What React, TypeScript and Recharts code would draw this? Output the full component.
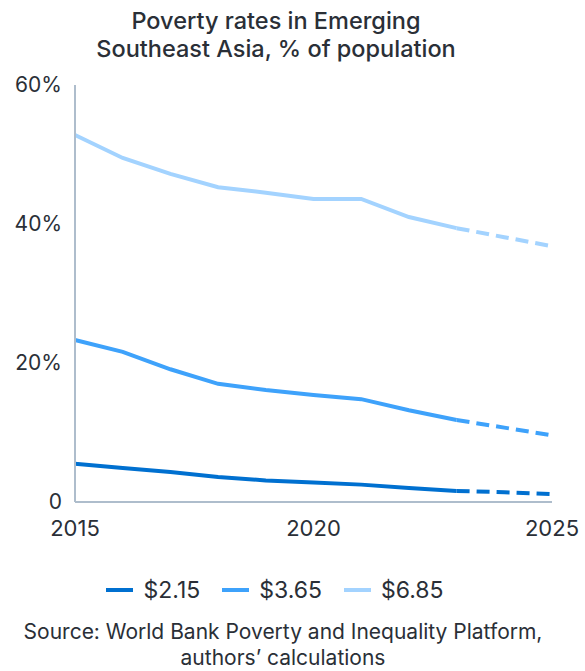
import { LineChart, Line, XAxis, YAxis } from 'recharts';

const years = [2015, 2016, 2017, 2018, 2019, 2020, 2021, 2022, 2023, 2024, 2025];
const lastActual = 2023;
const poor215 = [5.5, 4.9, 4.3, 3.6, 3.1, 2.8, 2.5, 2.0, 1.6, 1.4, 1.15];
const poor365 = [23.3, 21.6, 19.1, 17.0, 16.1, 15.4, 14.8, 13.2, 11.8, 10.7, 9.6];
const poor685 = [52.8, 49.5, 47.2, 45.3, 44.5, 43.6, 43.6, 41.0, 39.4, 38.1, 36.8];
const yTicks = [0, 20, 40, 60];
const xTicks = [2015, 2020, 2025];

const series = [
  { key: 'p215', name: '$2.15', values: poor215, color: '#0070d0' },
  { key: 'p365', name: '$3.65', values: poor365, color: '#3ea2fb' },
  { key: 'p685', name: '$6.85', values: poor685, color: '#a3d3ff' },
];

const data = years.map((year, i) => {
  const row: Record<string, number | null> = { year };
  series.forEach((s) => {
    row[s.key] = year <= lastActual ? s.values[i] : null;
    row[s.key + 'f'] = year >= lastActual ? s.values[i] : null;
  });
  return row;
});

const font = 'Inter, "Noto Sans", sans-serif';
const textColor = '#2a2f37';
const axisColor = '#aebdcc';

export default function App() {
  return (
    <div style={{ position: 'absolute', left: 0, top: 0, width: 585, height: 671, background: '#fff', fontFamily: font, color: textColor }}>
      <div style={{ position: 'absolute', left: 0, top: 7, width: 552, textAlign: 'center', fontSize: 23.5, lineHeight: '28px', fontWeight: 500 }}>
        Poverty rates in Emerging
        <br />
        Southeast Asia, % of population
      </div>
      <LineChart width={585} height={671} data={data} margin={{ top: 85, right: 33, bottom: 139, left: 0 }}>
        <XAxis
          dataKey="year"
          type="number"
          domain={[2015, 2025]}
          ticks={xTicks}
          tickLine={false}
          tickSize={0}
          tickMargin={18}
          axisLine={{ stroke: axisColor, strokeWidth: 2 }}
          tick={{ fill: textColor, fontSize: 22, fontFamily: font }}
          interval={0}
        />
        <YAxis
          type="number"
          domain={[0, 60]}
          ticks={yTicks}
          width={75}
          tickLine={false}
          tickSize={0}
          tickMargin={13}
          axisLine={{ stroke: axisColor, strokeWidth: 2 }}
          tick={{ fill: textColor, fontSize: 21, fontFamily: font }}
          tickFormatter={(v: number) => (v === 0 ? '0' : `${v}%`)}
        />
        {series.map((s) => (
          <Line key={s.key} dataKey={s.key} stroke={s.color} strokeWidth={4} dot={false} type="linear" isAnimationActive={false} connectNulls={false} />
        ))}
        {series.map((s) => (
          <Line key={s.key + 'f'} dataKey={s.key + 'f'} stroke={s.color} strokeWidth={4} strokeDasharray="13 7" dot={false} type="linear" isAnimationActive={false} connectNulls={false} />
        ))}
      </LineChart>
      <div style={{ position: 'absolute', left: 0, top: 576, width: 550, display: 'flex', justifyContent: 'center', gap: 22, fontSize: 23 }}>
        {series.map((s) => (
          <div key={s.key} style={{ display: 'flex', alignItems: 'center', gap: 10 }}>
            <div style={{ width: 27, height: 4, background: s.color }} />
            <span>{s.name}</span>
          </div>
        ))}
      </div>
      <div style={{ position: 'absolute', left: 0, top: 619, width: 566, textAlign: 'center', fontSize: 21, lineHeight: '26px' }}>
        Source: World Bank Poverty and Inequality Platform,
        <br />
        authors’ calculations
      </div>
    </div>
  );
}
